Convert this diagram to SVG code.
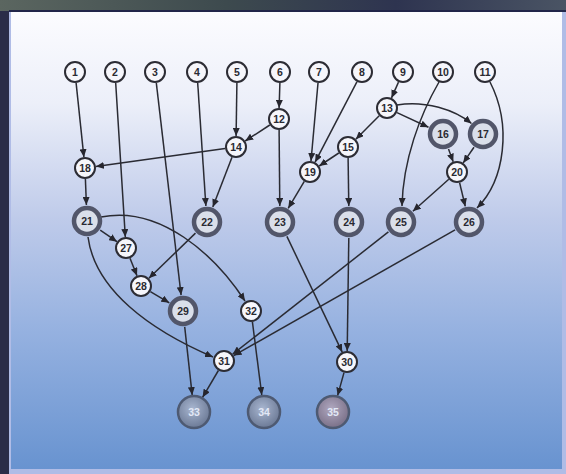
<svg xmlns="http://www.w3.org/2000/svg" width="566" height="474" viewBox="0 0 566 474">
<defs>
<linearGradient id="bg" x1="0" y1="0" x2="0" y2="1">
<stop offset="0" stop-color="#fcfcff"/>
<stop offset="0.2" stop-color="#eceff9"/>
<stop offset="0.45" stop-color="#bfcbea"/>
<stop offset="0.7" stop-color="#95b1e0"/>
<stop offset="1" stop-color="#6893d0"/>
</linearGradient>
<linearGradient id="top" x1="0" y1="0" x2="1" y2="0">
<stop offset="0" stop-color="#5b6660"/>
<stop offset="0.4" stop-color="#3d4a4e"/>
<stop offset="0.7" stop-color="#2e3450"/>
<stop offset="1" stop-color="#4a5464"/>
</linearGradient>
<radialGradient id="cfill" cx="0.45" cy="0.4" r="0.6">
<stop offset="0" stop-color="#a8b6d0"/>
<stop offset="1" stop-color="#6c7a96"/>
</radialGradient>
<radialGradient id="cfill2" cx="0.45" cy="0.4" r="0.6">
<stop offset="0" stop-color="#b0a8c0"/>
<stop offset="1" stop-color="#7a7088"/>
</radialGradient>
<marker id="ah" markerUnits="userSpaceOnUse" markerWidth="8" markerHeight="7" refX="8" refY="3.5" orient="auto">
<path d="M0,0 L8,3.5 L0,7 z" fill="#26262e"/>
</marker>
</defs>
<style>
.e{fill:none;stroke:#2a2b33;stroke-width:1.5;marker-end:url(#ah)}
.a circle{fill:#f6f6fb;stroke:#2c2c34;stroke-width:2}
.b circle{fill:#dadfea;stroke:#52566a;stroke-width:4.5}
.c circle{stroke:#4e5a72;stroke-width:2.5}
text{font-family:"Liberation Sans",Arial,sans-serif;font-size:10.5px;font-weight:bold;text-anchor:middle;dominant-baseline:central;fill:#2a2a32}
.c text{fill:#e2e8f6}
</style>
<rect x="0" y="0" width="566" height="474" fill="#2a2c48"/>
<rect x="0" y="0" width="566" height="11" fill="url(#top)"/>
<rect x="9" y="10" width="557" height="3" fill="#22264a"/>
<rect x="9" y="12" width="557" height="462" fill="#b0bce6"/>
<rect x="11" y="12" width="551" height="457" fill="url(#bg)"/>

<g id="connectors">
<path class="e" d="M76.1,82.9 L83.9,157.1"/>
<path class="e" d="M115.7,83 L125.3,237"/>
<path class="e" d="M156.3,82.9 L181.1,295.1"/>
<path class="e" d="M197.7,83 L205.9,206"/>
<path class="e" d="M236.9,83 L236.1,136"/>
<path class="e" d="M279.9,83 L279.1,108"/>
<path class="e" d="M269.8,125 L245.2,141"/>
<path class="e" d="M279.1,130 L279.8,206"/>
<path class="e" d="M225.1,148.5 L95.9,166.5"/>
<path class="e" d="M232,157.3 L212.8,207.1"/>
<path class="e" d="M318,83 L311,161"/>
<path class="e" d="M356.9,81.8 L315.1,162.2"/>
<path class="e" d="M398.5,82.1 L391.5,97.9"/>
<path class="e" d="M379.2,115.8 L355.8,139.2"/>
<path class="e" d="M397,112.6 L428.5,127.3"/>
<path class="e" d="M397,105 C425,100 455,110 471.5,123.5"/>
<path class="e" d="M338.8,153 L319.2,166"/>
<path class="e" d="M348.1,158 L348.8,206"/>
<path class="e" d="M448.5,149 L453.2,161.7"/>
<path class="e" d="M474,147.2 L463.2,162.9"/>
<path class="e" d="M448.8,179.3 L412.9,211.3"/>
<path class="e" d="M459.6,182.7 L465.3,206.4"/>
<path class="e" d="M439,82 C420,115 403,160 402,206"/>
<path class="e" d="M490,82 C512,125 505,180 477,208"/>
<path class="e" d="M85.4,179 L86.4,205"/>
<path class="e" d="M304.3,181.4 L288.2,208.3"/>
<path class="e" d="M100.2,230.1 L117,241.7"/>
<path class="e" d="M101,217 C160,205 215,255 245,301"/>
<path class="e" d="M88,237 C95,290 150,330 213,357"/>
<path class="e" d="M130,258.2 L137,275.8"/>
<path class="e" d="M195.5,233.1 L148.9,278.3"/>
<path class="e" d="M150.4,291.6 L169.3,302.8"/>
<path class="e" d="M184.7,326.9 L192.2,395.1"/>
<path class="e" d="M218.4,370.5 L202.6,397.3"/>
<path class="e" d="M252.4,321.9 L261.8,395.1"/>
<path class="e" d="M286.9,236.4 L342.2,352.1"/>
<path class="e" d="M348.8,238 L347.2,351"/>
<path class="e" d="M388.4,231.9 L232.7,354.2"/>
<path class="e" d="M455.1,229.9 L233.6,355.6"/>
<path class="e" d="M344,372.6 L337.6,395.6"/>
</g>

<g id="n1" class="a"><circle cx="75" cy="72" r="10"/><text x="75" y="72">1</text></g>
<g id="n2" class="a"><circle cx="115" cy="72" r="10"/><text x="115" y="72">2</text></g>
<g id="n3" class="a"><circle cx="155" cy="72" r="10"/><text x="155" y="72">3</text></g>
<g id="n4" class="a"><circle cx="197" cy="72" r="10"/><text x="197" y="72">4</text></g>
<g id="n5" class="a"><circle cx="237" cy="72" r="10"/><text x="237" y="72">5</text></g>
<g id="n6" class="a"><circle cx="280" cy="72" r="10"/><text x="280" y="72">6</text></g>
<g id="n7" class="a"><circle cx="319" cy="72" r="10"/><text x="319" y="72">7</text></g>
<g id="n8" class="a"><circle cx="362" cy="72" r="10"/><text x="362" y="72">8</text></g>
<g id="n9" class="a"><circle cx="403" cy="72" r="10"/><text x="403" y="72">9</text></g>
<g id="n10" class="a"><circle cx="443" cy="72" r="10"/><text x="443" y="72">10</text></g>
<g id="n11" class="a"><circle cx="485" cy="72" r="10"/><text x="485" y="72">11</text></g>
<g id="n12" class="a"><circle cx="279" cy="119" r="10"/><text x="279" y="119">12</text></g>
<g id="n13" class="a"><circle cx="387" cy="108" r="10"/><text x="387" y="108">13</text></g>
<g id="n14" class="a"><circle cx="236" cy="147" r="10"/><text x="236" y="147">14</text></g>
<g id="n15" class="a"><circle cx="348" cy="147" r="10"/><text x="348" y="147">15</text></g>
<g id="n16" class="b"><circle cx="443" cy="134" r="13"/><text x="443" y="134">16</text></g>
<g id="n17" class="b"><circle cx="483" cy="134" r="13"/><text x="483" y="134">17</text></g>
<g id="n18" class="a"><circle cx="85" cy="168" r="10"/><text x="85" y="168">18</text></g>
<g id="n19" class="a"><circle cx="310" cy="172" r="10"/><text x="310" y="172">19</text></g>
<g id="n20" class="a"><circle cx="457" cy="172" r="10"/><text x="457" y="172">20</text></g>
<g id="n21" class="b"><circle cx="87" cy="221" r="13"/><text x="87" y="221">21</text></g>
<g id="n22" class="b"><circle cx="207" cy="222" r="13"/><text x="207" y="222">22</text></g>
<g id="n23" class="b"><circle cx="280" cy="222" r="13"/><text x="280" y="222">23</text></g>
<g id="n24" class="b"><circle cx="349" cy="222" r="13"/><text x="349" y="222">24</text></g>
<g id="n25" class="b"><circle cx="401" cy="222" r="13"/><text x="401" y="222">25</text></g>
<g id="n26" class="b"><circle cx="469" cy="222" r="13"/><text x="469" y="222">26</text></g>
<g id="n27" class="a"><circle cx="126" cy="248" r="10"/><text x="126" y="248">27</text></g>
<g id="n28" class="a"><circle cx="141" cy="286" r="10"/><text x="141" y="286">28</text></g>
<g id="n29" class="b"><circle cx="183" cy="311" r="13"/><text x="183" y="311">29</text></g>
<g id="n32" class="a"><circle cx="251" cy="311" r="10"/><text x="251" y="311">32</text></g>
<g id="n31" class="a"><circle cx="224" cy="361" r="10"/><text x="224" y="361">31</text></g>
<g id="n30" class="a"><circle cx="347" cy="362" r="10"/><text x="347" y="362">30</text></g>
<g id="n33" class="c"><circle cx="194" cy="412" r="16" fill="url(#cfill)"/><text x="194" y="412">33</text></g>
<g id="n34" class="c"><circle cx="264" cy="412" r="16" fill="url(#cfill)"/><text x="264" y="412">34</text></g>
<g id="n35" class="c"><circle cx="333" cy="412" r="16" fill="url(#cfill2)"/><text x="333" y="412">35</text></g>
</svg>
